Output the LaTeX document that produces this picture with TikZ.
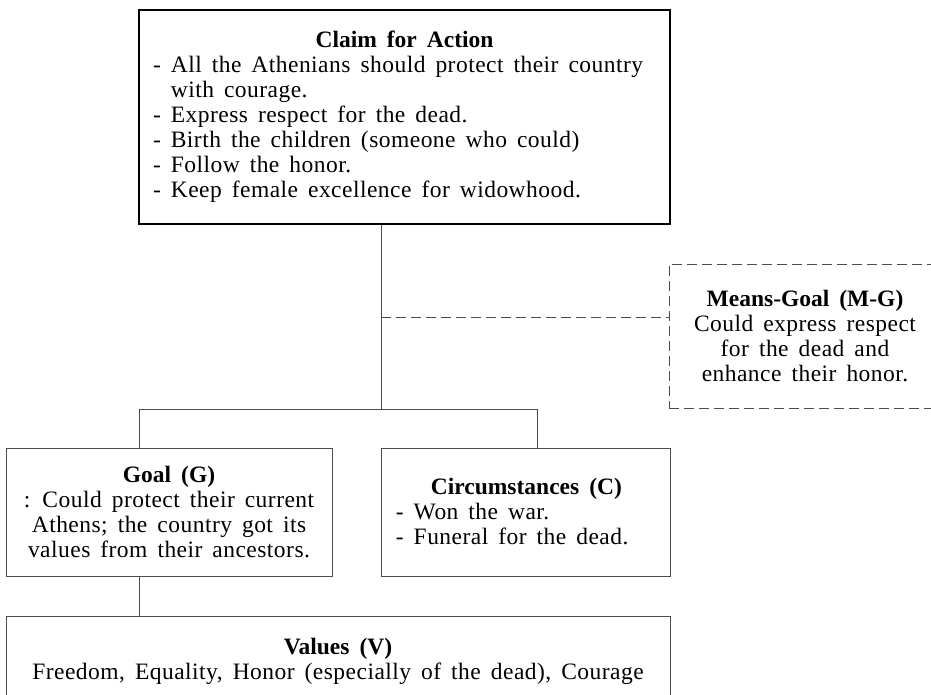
\documentclass[tikz,border=0pt]{standalone}
\usepackage{fontspec}
\setmainfont{Liberation Serif}[UprightFeatures={LetterSpace=2}]
\usepackage{tikz}
\usetikzlibrary{positioning}

\newcommand{\boxfont}{\fontsize{23.5}{25}\selectfont\spaceskip=10pt plus 2pt minus 1pt}

\begin{document}
\begin{tikzpicture}[%
	x=1pt, y=-1pt,
	node distance=40pt,
	font=\boxfont,
	argbox/.style={draw=black!70, line width=0.9pt, inner xsep=14pt, inner ysep=0pt},
	claimbox/.style={argbox, draw=black, line width=1.2pt},
	mgbox/.style={argbox, dash pattern=on 10pt off 5pt},
	link/.style={draw=black!70, line width=0.9pt}
	]
	\clip (0,0) rectangle (931,694);
	
	\node[claimbox, minimum width=531pt, minimum height=214pt, align=left] (claim) at (404.5,117) {\makebox[503pt]{\bfseries Claim for Action}\\
		- All the Athenians should protect their country\\
		\phantom{- }with courage.\\
		- Express respect for the dead.\\
		- Birth the children (someone who could)\\
		- Follow the honor.\\
		- Keep female excellence for widowhood.};
	
	\node[argbox, minimum width=326pt, minimum height=128pt, align=center] (goal) at (169,512) {\textbf{Goal (G)}\\
		: Could protect their current\\
		Athens; the country got its\\
		values from their ancestors.};
	
	\node[argbox, minimum width=289pt, minimum height=128pt, align=left, right=49pt of goal] (circ) {\makebox[261pt]{\bfseries Circumstances (C)}\\
		- Won the war.\\
		- Funeral for the dead.};
	
	\node[argbox, minimum width=664pt, minimum height=88pt, align=center, below=40pt of goal.south west, anchor=north west] (values) {\textbf{Values (V)}\\
		Freedom, Equality, Honor (especially of the dead), Courage};
	
	\node[mgbox, minimum width=272pt, minimum height=144pt, align=center] (mg) at (805,336) {\textbf{Means-Goal (M-G)}\\
		Could express respect\\
		for the dead and\\
		enhance their honor.};
	
	% junctions of the tree
	\coordinate (split) at (381,409);
	\coordinate (gtap) at (139,409);
	\coordinate (ctap) at (537,409);
	\coordinate (mid) at (381,317);
	
	\draw[link] (claim.south -| split) -- (split);
	\draw[link] (goal.north -| gtap) -- (gtap) -- (ctap) -- (circ.north -| ctap);
	\draw[link] (goal.south -| gtap) -- (values.north -| gtap);
	\draw[link, dash pattern=on 10pt off 5pt] (mid) -- (mid -| mg.west);
\end{tikzpicture}
\end{document}
